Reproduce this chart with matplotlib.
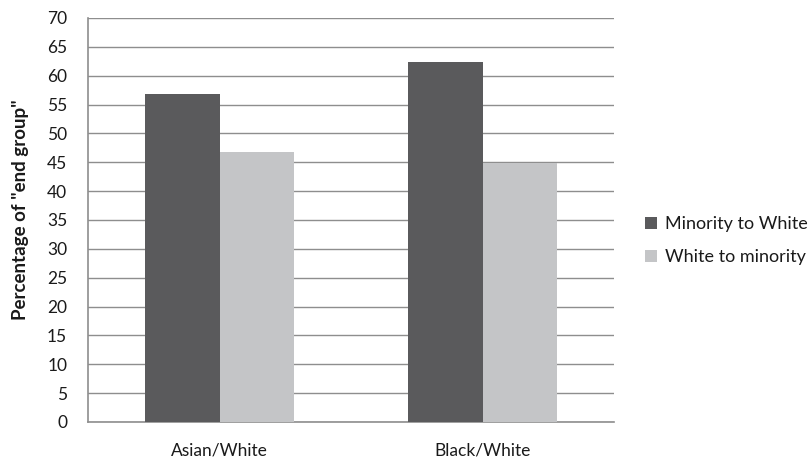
import matplotlib
matplotlib.use("Agg")
import matplotlib.pyplot as plt
import numpy as np

plt.rcParams['font.family'] = ['Lato', 'DejaVu Sans']

categories = ["Asian/White", "Black/White"]
series_names = ["Minority to White", "White to minority"]
minority_to_white = [56.8, 62.4]
white_to_minority = [46.7, 44.8]
yticks = list(range(0, 75, 5))

W, H = 811, 463
fig = plt.figure(figsize=(W / 100, H / 100), dpi=100)
ax = fig.add_axes([88 / W, (H - 422) / H, (614 - 88) / W, (422 - 18) / H])

x = np.arange(len(categories))
bw = 0.285
c_dark = "#5a5a5c"
c_light = "#c4c5c7"
ax.bar(x - bw / 2, minority_to_white, bw, color=c_dark, label=series_names[0], zorder=3)
ax.bar(x + bw / 2, white_to_minority, bw, color=c_light, label=series_names[1], zorder=3)

ax.set_xlim(-0.5, 1.5)
ax.set_ylim(0, 70)
ax.set_yticks(yticks)
ax.set_yticklabels([str(v) for v in yticks])
ax.set_xticks(x)
ax.set_xticklabels(categories)
ax.yaxis.grid(True, color="#8e8e8e", linewidth=1.0, zorder=0)
ax.set_axisbelow(True)
for s in ["top", "right"]:
    ax.spines[s].set_visible(False)
for s in ["left", "bottom"]:
    ax.spines[s].set_color("#8e8e8e")
    ax.spines[s].set_linewidth(1.2)
ax.tick_params(axis="y", length=0, pad=15, labelsize=12.5, colors="#1a1a1a")
ax.tick_params(axis="x", length=0, pad=15, labelsize=12.5, colors="#1a1a1a")

fig.text(21 / W, 1 - 210 / H, 'Percentage of "end group"', rotation=90,
         ha="center", va="center", fontsize=13.5, fontweight="bold", color="#1a1a1a")

leg = ax.legend(loc="center left", bbox_to_anchor=(645 / W, 1 - 240.5 / H),
                bbox_transform=fig.transFigure, frameon=False, fontsize=13,
                handlelength=0.65, handleheight=0.65, handletextpad=0.45,
                labelspacing=0.95, borderaxespad=0, borderpad=0)
for t in leg.get_texts():
    t.set_color("#1a1a1a")

fig.savefig("out.png", dpi=100)
